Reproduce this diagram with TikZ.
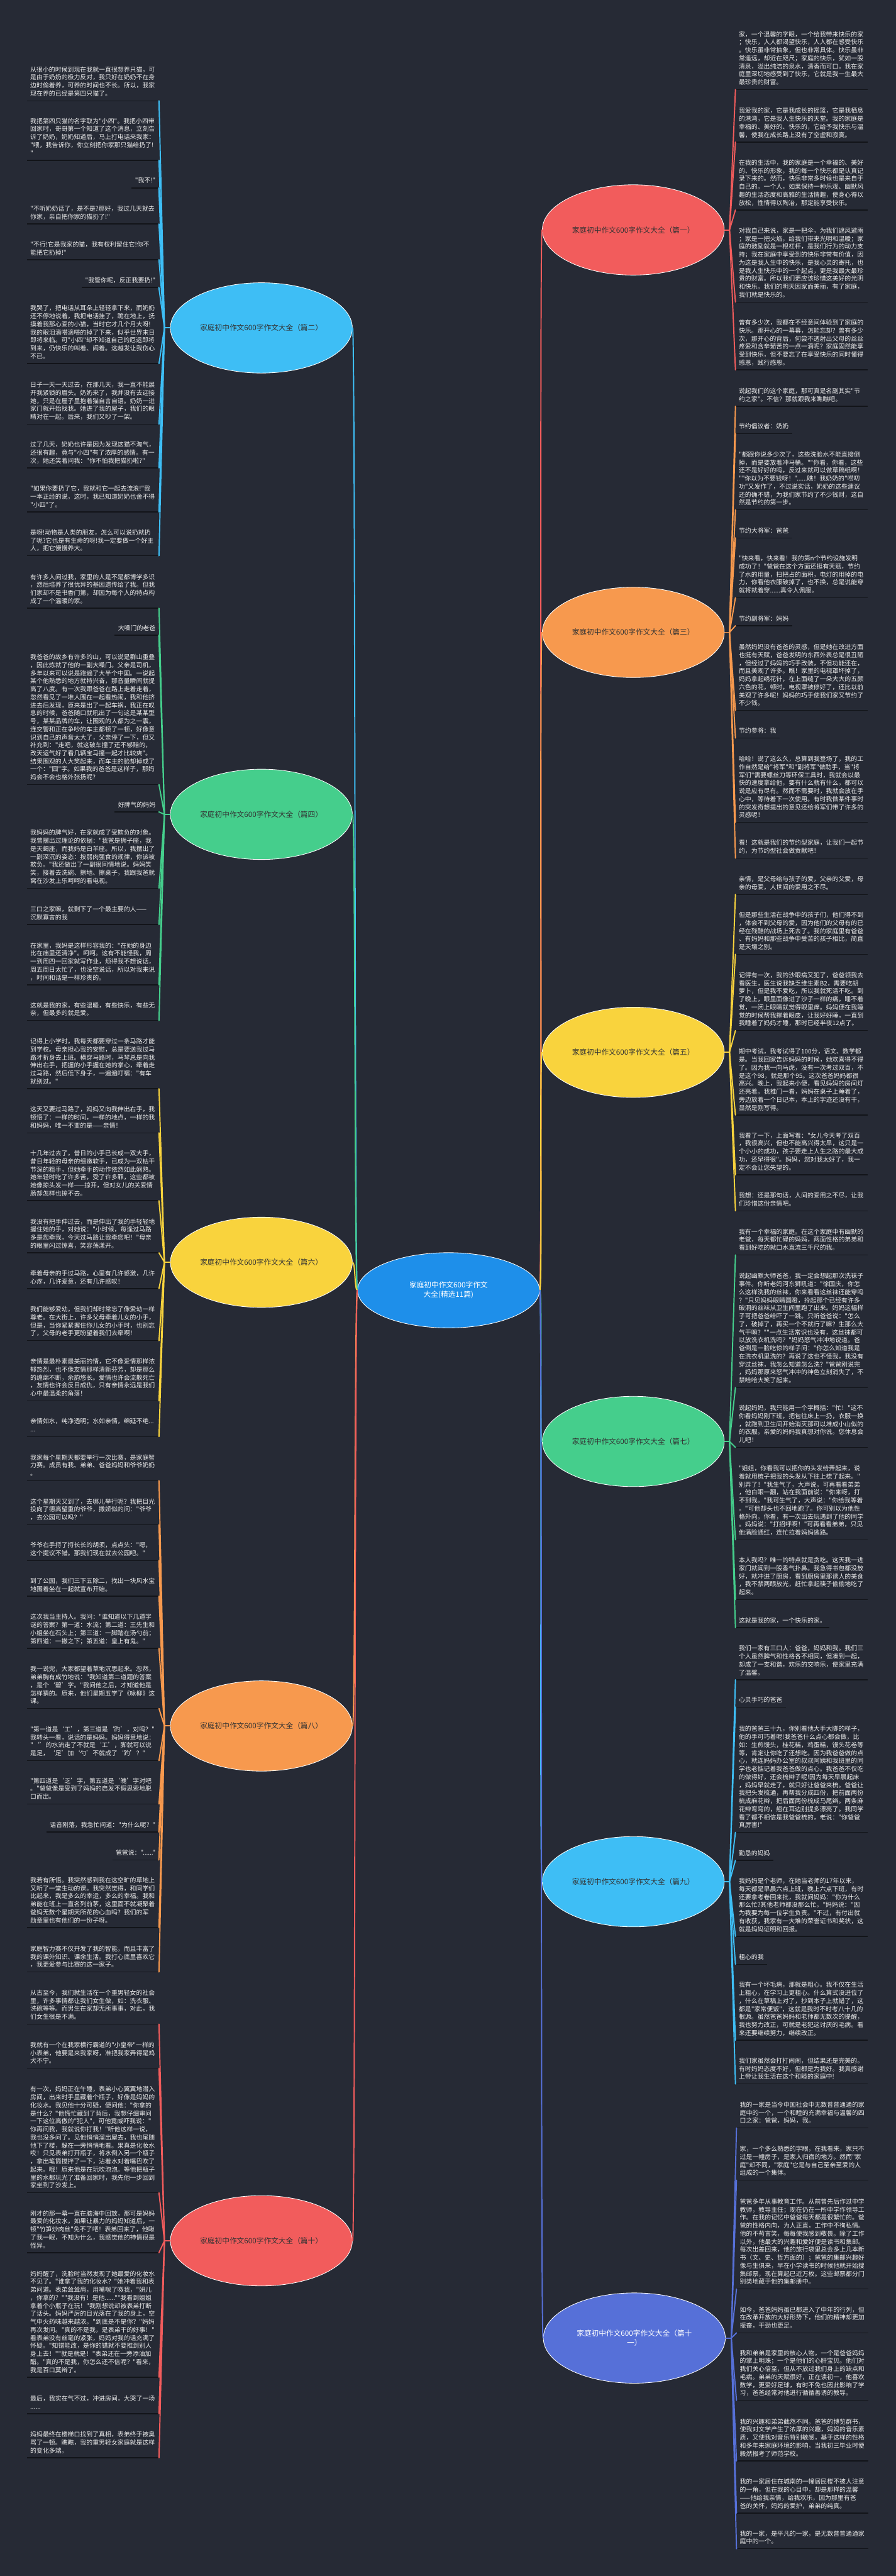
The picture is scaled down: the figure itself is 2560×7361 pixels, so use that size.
\documentclass[tikz,border=0pt]{standalone}
\usepackage{fontspec}
\newfontfamily\cjk{Noto Sans CJK SC}
\usetikzlibrary{shapes.geometric}
\definecolor{bgc}{HTML}{262A35}
\definecolor{txtc}{HTML}{EDEDED}
\definecolor{ulc}{HTML}{121419}
\definecolor{cred}{HTML}{F25C5C}
\definecolor{cblue}{HTML}{3EBEF5}
\definecolor{corange}{HTML}{F7994E}
\definecolor{cgreen}{HTML}{45CE8C}
\definecolor{cyellow}{HTML}{F9D33D}
\definecolor{cpurple}{HTML}{5670D8}
\definecolor{ccenter}{HTML}{1E8FEA}
\definecolor{ndtxt}{HTML}{333333}
\newcommand\leaffont{\cjk\fontsize{17.8}{22.9}\selectfont}
\newcommand\nodefont{\cjk\fontsize{21}{27}\selectfont}
\tikzset{
  leafbase/.style={inner xsep=9.5pt, inner ysep=7pt, font=\leaffont, text=txtc, align=left, execute at end node=\strut},
  leafL/.style={leafbase, anchor=south west, text width=358pt},
  leafLs/.style={leafbase, anchor=south east},
  leafR/.style={leafbase, anchor=south west, text width=358pt},
  leafRs/.style={leafbase, anchor=south west},
  uline/.style={draw=ulc, line width=2.5pt},
  topic/.style={ellipse, draw=white, line width=1.5pt, minimum width=520pt, minimum height=258pt, inner sep=0pt, font=\nodefont, text=ndtxt, align=center},
  bline/.style={line width=3.5pt, line cap=round}
}
\begin{document}
\begin{tikzpicture}[x=1pt,y=-1pt]
\fill[bgc] (0,0) rectangle (2560,7361);
\useasboundingbox (0,0) rectangle (2560,7361);

% ---------- topic nodes ----------
\node[ellipse, draw=white, line width=1.5pt, fill=ccenter, minimum width=520pt, minimum height=215pt, inner sep=0pt, font=\nodefont, text=white, align=center] (c) at (1282,3687) {家庭初中作文600字作文\\大全(精选11篇)};
\node[topic, fill=cred] (n1) at (1810,657) {家庭初中作文600字作文大全（篇一）};
\node[topic, fill=cblue] (n2) at (747,937) {家庭初中作文600字作文大全（篇二）};
\node[topic, fill=corange] (n3) at (1810,1807) {家庭初中作文600字作文大全（篇三）};
\node[topic, fill=cgreen] (n4) at (747,2327) {家庭初中作文600字作文大全（篇四）};
\node[topic, fill=cyellow] (n5) at (1810,3007) {家庭初中作文600字作文大全（篇五）};
\node[topic, fill=cyellow] (n6) at (747,3607) {家庭初中作文600字作文大全（篇六）};
\node[topic, fill=cgreen] (n7) at (1810,4119) {家庭初中作文600字作文大全（篇七）};
\node[topic, fill=corange] (n8) at (747,4932) {家庭初中作文600字作文大全（篇八）};
\node[topic, fill=cblue] (n9) at (1810,5377) {家庭初中作文600字作文大全（篇九）};
\node[topic, fill=cred] (n10) at (747,6403) {家庭初中作文600字作文大全（篇十）};
\node[topic, fill=cpurple, text=white] (n11) at (1813,6681) {家庭初中作文600字作文大全（篇十\\一）};

% center connectors
\foreach \n/\col in {n2/cblue,n4/cgreen,n6/cyellow,n8/corange,n10/cred}{
  \draw[bline, draw=\col] (c.west) .. controls +(-8,0) and +(8,0) .. (\n.east);
}
\foreach \n/\col in {n1/cred,n3/corange,n5/cyellow,n7/cgreen,n9/cblue,n11/cpurple}{
  \draw[bline, draw=\col] (c.east) .. controls +(8,0) and +(-8,0) .. (\n.west);
}

% junctions
\coordinate (j1) at (2085,657);
\coordinate (j2) at (470,937);
\coordinate (j3) at (2085,1807);
\coordinate (j4) at (470,2327);
\coordinate (j5) at (2085,3007);
\coordinate (j6) at (470,3607);
\coordinate (j7) at (2085,4119);
\coordinate (j8) at (470,4932);
\coordinate (j9) at (2085,5377);
\coordinate (j10) at (470,6403);
\coordinate (j11) at (2090,6681);
\draw[bline, draw=cred] (n1.east) -- (j1);
\draw[bline, draw=cblue] (n2.west) -- (j2);
\draw[bline, draw=corange] (n3.east) -- (j3);
\draw[bline, draw=cgreen] (n4.west) -- (j4);
\draw[bline, draw=cyellow] (n5.east) -- (j5);
\draw[bline, draw=cyellow] (n6.west) -- (j6);
\draw[bline, draw=cgreen] (n7.east) -- (j7);
\draw[bline, draw=corange] (n8.west) -- (j8);
\draw[bline, draw=cblue] (n9.east) -- (j9);
\draw[bline, draw=cred] (n10.west) -- (j10);
\draw[bline, draw=cpurple] (n11.east) -- (j11);

% ================= LEFT LEAVES =================
% 篇二
\node[leafL] (L1) at (77,288) {从很小的时候到现在我就一直很想养只猫，可\\是由于奶奶的极力反对，我只好在奶奶不在身\\边时偷着养，可养的时间也不长。所以，我家\\现在养的已经是第四只猫了。};
\node[leafL] (L2) at (77,458) {我把第四只猫的名字取为"小四"。我把小四带\\回家时，哥哥第一个知道了这个消息，立刻告\\诉了奶奶，奶奶知道后，马上打电话来我家：\\"喂，我告诉你，你立刻把你家那只猫给扔了!\\"};
\node[leafLs] (L3) at (454,537) {"我不!"};
\node[leafL] (L4) at (77,640) {"不听奶奶话了，是不是?那好，我过几天就去\\你家，亲自把你家的猫扔了!"};
\node[leafL] (L5) at (77,742) {"不行!它是我家的猫，我有权利留住它!你不\\能把它扔掉!"};
\node[leafLs] (L6) at (454,821) {"我管你呢，反正我要扔!"};
\node[leafL] (L7) at (77,1039) {我哭了，把电话从耳朵上轻轻拿下来，而奶奶\\还不停地说着，我把电话挂了，跪在地上，抚\\摸着我那心爱的小猫，当时它才几个月大呀!\\我的眼泪滴嗒滴嗒的掉了下来，似乎世界末日\\即将来临。可"小四"却不知道自己的厄运即将\\到来，仍快乐的叫着、闹着。这越发让我伤心\\不已。};
\node[leafL] (L8) at (77,1212) {日子一天一天过去，在那几天，我一直不能展\\开我紧锁的眉头。奶奶来了，我并没有去迎接\\她，只是在屋子里抱着猫自言自语。奶奶一进\\家门就开始找我。她进了我的屋子，我们的眼\\睛对在一起。后来，我们又吵了一架。};
\node[leafL] (L9) at (77,1337) {过了几天，奶奶也许是因为发现这猫不淘气，\\还很有趣，竟与"小四"有了浓厚的感情。有一\\次，她还笑着问我："你不怕我把猫扔啦?"};
\node[leafL] (L10) at (77,1463) {"如果你要扔了它，我就和它一起去流浪!"我\\一本正经的说，这时，我已知道奶奶也舍不得\\"小四"了。};
\node[leafL] (L11) at (77,1588) {是呀!动物是人类的朋友，怎么可以说扔就扔\\了呢?它也是有生命的呀!我一定要做一个好主\\人，把它慢慢养大。};
% 篇四
\node[leafL] (L12) at (77,1738) {有许多人问过我，家里的人是不是都博学多识\\，然后培养了很优异的基因遗传给了我。但我\\们家却不是书香门第，却因为每个人的特点构\\成了一个温暖的家。};
\node[leafLs] (L13) at (454,1815) {大嗓门的老爸};
\node[leafL] (L14) at (77,2242) {我爸爸的故乡有许多的山，可以说是群山重叠\\，因此炼就了他的一副大嗓门。父亲是司机，\\多年以来可以说是跑遍了大半个中国。一说起\\某个他熟悉的地方就特兴奋，那音量瞬间就提\\高了八度。有一次我跟爸爸在路上走着走着，\\忽然看见了一堆人围在一起看热闹，我和他挤\\进去后发现，原来是出了一起车祸，我正在叹\\息的时候，爸爸随口就吼出了一句这是某某型\\号，某某品牌的车，让围观的人都为之一震，\\连交警和正在争吵的车主都顿了一顿，好像意\\识到自己的声音太大了，父亲停了一下，但又\\补充到："走吧，就这破车撞了还不够赔的，\\改天运气好了看几辆宝马撞一起才比较爽"。\\结果围观的人大笑起来，而车主的脸却掉成了\\一个："囧"字。如果我的爸爸是这样子，那妈\\妈会不会也格外张扬呢?};
\node[leafLs] (L15) at (454,2320) {好脾气的妈妈};
\node[leafL] (L16) at (77,2538) {我妈妈的脾气好，在家就成了受欺负的对象。\\我曾摆出过理论的依据："我爸是狮子座，我\\是天蝎座，而我妈是白羊座。所以，我摆出了\\一副深沉的姿态：按弱肉强食的规律，你该被\\欺负。"我还做出了一副很同情地说。妈妈笑\\笑，接着去洗碗、擦地、擦桌子，我跟我爸就\\窝在沙发上乐呵呵的看电视。};
\node[leafL] (L17) at (77,2642) {三口之家嘛，就剩下了一个最主要的人——\\沉默寡言的我};
\node[leafL] (L18) at (77,2814) {在家里，我妈是这样形容我的："在她的身边\\比在庙里还清净"。呵呵。这有不能怪我，周\\一到周四一回家就写作业，烦得我不想说话，\\周五周日太忙了，也没空说话，所以对我来说\\，时间和话是一样珍贵的。};
\node[leafL] (L19) at (77,2916) {这就是我的家，有些温暖，有些快乐，有些无\\奈，但最多的就是爱。};
% 篇六
\node[leafL] (L20) at (77,3111) {记得上小学时，我每天都要穿过一条马路才能\\到学校。母亲担心我的安慰，总是要送我过马\\路才折身去上班。横穿马路时，马琴总是向我\\伸出右手，把握的小手握在她的掌心，牵着走\\过马路，然后低下身子，一遍遍叮嘱："有车\\就别过。"};
\node[leafL] (L21) at (77,3237) {这天又要过马路了，妈妈又向我伸出右手，我\\顿悟了：一样的时间，一样的地点，一样的我\\和妈妈，唯一不变的是——亲情！};
\node[leafL] (L22) at (77,3431) {十几年过去了，昔日的小手已长成一双大手，\\昔日年轻的母亲的细嫩软手，已成为一双枯干\\节深的粗手，但她牵手的动作依然如此娴熟。\\她年轻时吃了许多苦，受了许多罪，这些都被\\她像掠头发一样——掠开，但对女儿的关爱情\\肠却怎样也掠不去。};
\node[leafL] (L23) at (77,3580) {我没有把手伸过去，而是伸出了我的手轻轻地\\握住她的手，对她说："小时候，每逢过马路\\多是您牵我，今天过马路让我牵您吧！"母亲\\的眼里闪过惊喜，笑容荡漾开。};
\node[leafL] (L24) at (77,3682) {牵着母亲的手过马路，心里有几许感激，几许\\心疼，几许爱意，还有几许感叹！};
\node[leafL] (L25) at (77,3831) {我们能够爱幼，但我们却时常忘了像爱幼一样\\尊老。在大街上，许多父母牵着儿女的小手，\\但是，当你紧紧握住你儿女的小手时，也别忘\\了，父母的老手更盼望着我们去牵啊！};
\node[leafL] (L26) at (77,4003) {亲情是最朴素最美丽的情，它不像爱情那样浓\\郁热烈，也不像友情那样清新芬芳，却是那么\\的缠绵不断，余韵悠长。爱情也许会流散死亡\\，友情也许会反目成仇，只有亲情永远是我们\\心中最温柔的角落！};
\node[leafL] (L27) at (77,4105) {亲情如水，纯净透明；水如亲情，绵延不绝...\\...};
% 篇八
\node[leafL] (L28) at (77,4231) {我家每个星期天都要举行一次比赛，是家庭智\\力赛。成员有我、弟弟、爸爸妈妈和爷爷奶奶\\。};
\node[leafL] (L29) at (77,4357) {这个星期天又到了，去哪儿举行呢？我把目光\\投向了德高望重的爷爷，撒娇似的问："爷爷\\，去公园可以吗？"};
\node[leafL] (L30) at (77,4459) {爷爷右手捋了捋长长的胡须，点点头："嗯，\\这个提议不错。那我们现在就去公园吧。"};
\node[leafL] (L31) at (77,4561) {到了公园，我们三下五除二，找出一块风水宝\\地围着坐在一起就宣布开始。};
\node[leafL] (L32) at (77,4710) {这次我当主持人。我问："谁知道以下几道字\\谜的答案？第一道：水流；第二道：王先生和\\小姐坐在石头上；第三道：一脚踏在汤勺前；\\第四道：一撇之下；第五道：皇上有鬼。"};
\node[leafL] (L33) at (77,4882) {我一说完，大家都望着草地沉思起来。忽然，\\弟弟胸有成竹地说："我知道第二道题的答案\\，是个‘碧’字。"我问他之后，才知道他是\\怎样猜的。原来，他们星期五学了《咏柳》这\\课。};
\node[leafL] (L34) at (77,5031) {"第一道是‘工’，第三道是‘趵’，对吗？"\\我转头一看，说话的是妈妈。妈妈得意地说：\\"‘’的水流走了不就是‘工’，脚就可以说\\是足，‘足’加‘勺’不就成了‘趵’？"};
\node[leafL] (L35) at (77,5155) {"第四道是‘乏’字，第五道是‘魄’字对吧\\。"爸爸像是受到了妈妈的启发不假思索地脱\\口而出。};
\node[leafLs] (L36) at (454,5235) {话音刚落，我急忙问道："为什么呢？"};
\node[leafLs] (L37) at (454,5315) {爸爸说："......"};
\node[leafL] (L38) at (77,5508) {我若有所悟。我突然感到我在这空旷的草地上\\又听了一堂生动的课。我突然觉得，和同学们\\比起来，我是多么的幸运，多么的幸福。我和\\弟能在班上一直名列前茅，这里面不就凝聚着\\爸妈无数个星期天所花的心血吗？我们的军\\勋章里也有他们的一份子呀。};
\node[leafL] (L39) at (77,5635) {家庭智力赛不仅开发了我的智能，而且丰富了\\我的课外知识、课余生活。我打心底里喜欢它\\，我更爱参与比赛的这一家子。};
% 篇十
\node[leafL] (L40) at (77,5784) {从古至今，我们就生活在一个重男轻女的社会\\里，许多事情都让我们女生做，如：洗衣服、\\洗碗等等。而男生在家却无所事事，对此，我\\们女生很是不满。};
\node[leafL] (L41) at (77,5910) {我就有一个在我家横行霸道的"小皇帝"一样的\\小表弟，他要是来我家呀，准把我家弄得是鸡\\犬不宁。};
\node[leafL] (L42) at (77,6266) {有一次，妈妈正在午睡，表弟小心翼翼地潜入\\房间，出来时手里藏着个瓶子，好像是妈妈的\\化妆水。我见他十分可疑，便问他："你拿的\\是什么？"他慌忙藏到了背后，我想仔细审问\\一下这位高傲的"犯人"，可他竟威吓我说："\\你再问我，我就说你打我！"听他这样一说，\\我也没多问了。见他悄悄溜出屋去，我也尾随\\他下了楼，躲在一旁悄悄地看。果真是化妆水\\哎！只见表弟打开瓶子，将水倒入另一个瓶子\\，拿出笔筒搅拌了一下，沾着水对着嘴巴吹了\\起来。哦！原来他是在玩吹泡泡。等他把瓶子\\里的水都玩光了准备回家时，我先他一步回到\\家坐到了沙发上。};
\node[leafL] (L43) at (77,6437) {刚才的那一幕一直在脑海中回放，那可是妈妈\\最爱的化妆水，如果让暴力的妈妈知道后，一\\顿"竹笋炒肉丝"免不了吧！表弟回来了，他瞅\\了我一眼，不知为什么，我感觉他的神情很是\\怪异。};
\node[leafL] (L44) at (77,6793) {妈妈醒了，洗脸时当然发现了她最爱的化妆水\\不见了。"谁拿了我的化妆水？"她冲着我和表\\弟问道。表弟耸耸肩，用嘴呶了呶我，"妍儿\\，你拿的？""我没有！是他......""我看到姐姐\\拿着个小瓶子在玩！"我刚想说却被表弟打断\\了话头。妈妈严厉的目光落在了我的身上，空\\气中火药味越来越浓。"到底是不是你？"妈妈\\再次发问。"真的不是我，是表弟干的好事！"\\看表弟没有丝毫的紧张，妈妈对我的话充满了\\怀疑。"知错能改，是你的错就不要推到别人\\身上去！""就是就是！"表弟还在一旁添油加\\醋。"真的不是我，你怎么还不信呢？"看来，\\我是百口莫辩了。};
\node[leafL] (L45) at (77,6897) {最后，我实在气不过，冲进房间，大哭了一场\\......};
\node[leafL] (L46) at (77,7023) {妈妈最终在楼梯口找到了真相，表弟终于被臭\\骂了一顿。瞧瞧，我的重男轻女家庭就是这样\\的变化多端。};

% ================= RIGHT LEAVES =================
% 篇一
\node[leafR] (R1) at (2102,256) {家，一个温馨的字眼，一个给我带来快乐的家\\；快乐，人人都渴望快乐，人人都在感受快乐\\。快乐虽非常抽象，但也非常具体。快乐虽非\\常遥远，却近在咫尺；家庭的快乐，犹如一股\\清泉，溢出纯洁的泉水，清香而可口。我在家\\庭里深切地感受到了快乐，它就是我一生最大\\最珍贵的财富。};
\node[leafR] (R2) at (2102,406) {我爱我的家，它是我成长的摇篮，它是我栖息\\的港湾，它是我人生快乐的天堂。我的家庭是\\幸福的、美好的、快乐的，它给予我快乐与温\\馨，使我在成长路上没有了空虚和寂寞。};
\node[leafR] (R3) at (2102,600) {在我的生活中，我的家庭是一个幸福的、美好\\的、快乐的形象，我的每一个快乐都是认真记\\录下来的。然而，快乐非常多时候也是来自于\\自己的。一个人，如果保持一种乐观、幽默风\\趣的生活态度和高雅的生活情趣，使身心得以\\放松，性情得以陶冶，那定能享受快乐。};
\node[leafR] (R4) at (2102,863) {对我自己来说，家是一把伞，为我们遮风避雨\\；家是一把火焰，给我们带来光明和温暖；家\\庭的鼓励就是一根杠杆，是我们行为的动力支\\持；我在家庭中享受到的快乐非常有价值，因\\为这是我人生中的快乐，是我心灵的寄托，也\\是我人生快乐中的一个起点，更是我最大最珍\\贵的财富。所以我们更应该珍惜这美好的光阴\\和快乐。我们的明天因家而美丽，有了家庭，\\我们就是快乐的。};
\node[leafR] (R5) at (2102,1057) {曾有多少次，我都在不经意间体验到了家庭的\\快乐。那开心的一幕幕，怎能忘却？曾有多少\\次，那开心的背后，何尝不透射出父母的丝丝\\疼爱和含辛茹苦的一点一滴呢？家庭固然能享\\受到快乐，但不要忘了在享受快乐的同时懂得\\感恩，践行感恩。};
% 篇三
\node[leafR] (R6) at (2102,1161) {说起我们的这个家庭，那可真是名副其实"节\\约之家"。不信？那就跟我来瞧瞧吧。};
\node[leafRs] (R7) at (2102,1239) {节约倡议者：奶奶};
\node[leafR] (R8) at (2102,1457) {"都跟你说多少次了，这些洗脸水不能直接倒\\掉，而是要放着冲马桶。""你看，你看，这些\\还不是好好的吗，反过来就可以做草稿纸啊！\\""你以为不要钱呀！"......瞧！我奶奶的"唠叨\\功"又发作了，不过说实话，奶奶的这些建议\\还的确不错，为我们家节约了不少钱财，这自\\然是节约的第一步。};
\node[leafRs] (R9) at (2102,1537) {节约大将军：爸爸};
\node[leafR] (R10) at (2102,1708) {"快来看，快来看！我的第n个节约设施发明\\成功了！"爸爸在这个方面还挺有天赋，节约\\了水的用量，扫把占的面积，电灯的用掉的电\\力，你看他衣服破掉了，也不换，总是说能穿\\就将就着穿......真令人佩服。};
\node[leafRs] (R11) at (2102,1788) {节约副将军：妈妈};
\node[leafR] (R12) at (2102,2030) {虽然妈妈没有爸爸的灵感，但是她在改进方面\\也挺有天赋，爸爸发明的东西外表总是很丑陋\\，但经过了妈妈的巧手改装，不但功能还在，\\而且美观了许多。瞧！家里的电视罩坏掉了，\\妈妈拿起绣花针，在上面缝了一朵大大的五颜\\六色的花，顿时，电视罩被修好了，还比以前\\美观了许多呢！妈妈的巧手使我们家又节约了\\不少钱。};
\node[leafRs] (R13) at (2102,2109) {节约参将：我};
\node[leafR] (R14) at (2102,2350) {哈哈！说了这么久，总算到我登场了，我的工\\作自然是给"将军"和"副将军"做助手，当"将\\军们"需要螺丝刀等环保工具时，我就会以最\\快的速度拿给他，要有什么就有什么，都可以\\说是应有尽有。然而不需要时，我就会放在手\\心中，等待着下一次使用。有时我做某件事时\\的突发奇想提出的意见还给将军们带了许多的\\灵感呢！};
\node[leafR] (R15) at (2102,2452) {看！这就是我们的节约型家庭，让我们一起节\\约，为节约型社会做贡献吧！};
% 篇五
\node[leafR] (R16) at (2102,2556) {亲情，是父母给与孩子的爱，父亲的父爱，母\\亲的母爱，人世间的爱用之不尽。};
\node[leafR] (R17) at (2102,2727) {但是那些生活在战争中的孩子们，他们得不到\\，体会不到父母的爱，因为他们的父母有的已\\经在残酷的战场上死去了。我的家庭里有爸爸\\、有妈妈和那些战争中受苦的孩子相比，简直\\是天壤之别。};
\node[leafR] (R18) at (2102,2945) {记得有一次，我的沙眼病又犯了，爸爸领我去\\看医生，医生说我缺乏维生素B2，需要吃胡\\萝卜，但是我不爱吃，所以我就死活不吃。到\\了晚上，眼里面像进了沙子一样的痛，睡不着\\觉，一闭上眼睛就觉得眼里痒。妈妈便在我睡\\觉的时候帮我撑着眼皮，让我好好睡，一直到\\我睡着了妈妈才睡，那时已经半夜12点了。};
\node[leafR] (R19) at (2102,3186) {期中考试，我考试得了100分，语文、数学都\\是。当我回家告诉妈妈的时候，她欢喜得不得\\了。因为我一向马虎，没有一次考过双百，不\\是这个98，就是那个95。这次爸爸妈妈都很\\高兴。晚上，我起来小便，看见妈妈的房间灯\\还亮着。我推门一看，妈妈在桌子上睡着了，\\旁边放着一个日记本，本上的字迹还没有干，\\显然是刚写得。};
\node[leafR] (R20) at (2102,3357) {我看了一下，上面写着："女儿今天考了双百\\，我很高兴，但也不能高兴得太早，这只是一\\个小小的成功，孩子要走上人生之路的最大成\\功，还早得很"。妈妈，您对我太好了，我一\\定不会让您失望的。};
\node[leafR] (R21) at (2102,3460) {我想：还是那句话，人间的爱用之不尽，让我\\们珍惜这份亲情吧。};
% 篇七
\node[leafR] (R22) at (2102,3586) {我有一个幸福的家庭。在这个家庭中有幽默的\\老爸，每天都忙碌的妈妈，两面性格的弟弟和\\看到好吃的就口水直流三千尺的我。};
\node[leafR] (R23) at (2102,3965) {说起幽默大师爸爸，我一定会想起那次洗袜子\\事件。你听老妈河东狮吼道："徐国庆，你怎\\么这样洗我的丝袜，你来看看这丝袜还能穿吗\\？"只见妈妈眼睛圆瞪，拎起那个已经有许多\\破洞的丝袜从卫生间里跑了出来。妈妈这幅样\\子可把爸爸给吓了一跳。只听爸爸说："怎么\\了，破掉了，再买一个不就行了嘛？生那么大\\气干嘛？""一点生活常识也没有，这丝袜都可\\以放洗衣机洗吗？"妈妈怒气冲冲地说道。爸\\爸倒是一脸吃惊的样子问："你怎么知道我是\\在洗衣机里洗的？再说了这也不怪我，我没有\\穿过丝袜，我怎么知道怎么洗？"爸爸刚说完\\，妈妈那原来怒气冲冲的神色立刻消失了，不\\禁哈哈大笑了起来。};
\node[leafR] (R24) at (2102,4136) {说起妈妈，我只能用一个字概括："忙！"这不\\你看妈妈刚下班，把包往床上一扔，衣服一换\\，就跑到卫生间开始消灭那可以堆成小山似的\\的衣服。亲爱的妈妈我真想对你说。您休息会\\儿吧！};
\node[leafR] (R25) at (2102,4400) {"姐姐，你看我可以把你的头发给弄起来，说\\着就用梳子把我的头发从下往上梳了起来。"\\别弄了！"我生气了，大声说。可再看看弟弟\\，他白眼一翻，站在我面前说："你来呀，打\\不到我。"我可生气了，大声说："你给我等着\\。"可他却头也不回地跑了。你可别以为他性\\格外向。你看，有一次出去玩遇到了他的同学\\。妈妈说："打招呼啊！"可再看看弟弟，只见\\他满脸通红，连忙拉着妈妈逃路。};
\node[leafR] (R26) at (2102,4571) {本人我吗？唯一的特点就是贪吃。这天我一进\\家门就闻到一股香气扑鼻。我急得书包都没放\\好，就冲进了厨房，看到厨房里那诱人的美食\\，我不禁两眼放光，赶忙拿起筷子偷偷地吃了\\起来。};
\node[leafRs] (R27) at (2102,4651) {这就是我的家，一个快乐的家。};
% 篇九
\node[leafR] (R28) at (2102,4800) {我们一家有三口人：爸爸，妈妈和我。我们三\\个人虽然脾气和性格各不相同，但凑到一起，\\却成了一支和谐，欢乐的交响乐，使家里充满\\了温馨。};
\node[leafRs] (R29) at (2102,4878) {心灵手巧的爸爸};
\node[leafR] (R30) at (2102,5236) {我的爸爸三十九，你别看他大手大脚的样子，\\他的手可巧着呢!我爸爸什么点心都会做，比\\如：生煎馒头，桂花糕，鸡蛋糕，馒头花卷等\\等，肯定让你吃了还想吃。因为我爸爸做的点\\心，就连妈妈办公室的叔叔阿姨和我班里的同\\学也老惦记着我爸爸做的点心。我爸爸不仅吃\\的做得好，还会梳辫子呢!因为每天早晨起床\\，妈妈早就走了，就只好让爸爸来梳。爸爸让\\我把头发梳通，再帮我分成四份，把前面两份\\梳成麻花辫，把后面两份梳成马尾辫。两条麻\\花辫弯弯的，翘在耳边别提多漂亮了。我同学\\看了都不相信是我爸爸梳的，老说："你爸爸\\真厉害!"};
\node[leafRs] (R31) at (2102,5316) {勤恳的妈妈};
\node[leafR] (R32) at (2102,5533) {我妈妈是个老师，在她当老师的17年以来，\\每天都是早晨六点上班，晚上六点下班，有时\\还要拿考卷回来批，我就问妈妈："你为什么\\那么忙?其他老师都没那么忙。"妈妈说："因\\为我要为每一位学生负责。"不过，有付出就\\有收获，我家有一大堆的荣誉证书和奖状，这\\就是妈妈证明和回报。};
\node[leafRs] (R33) at (2102,5613) {粗心的我};
\node[leafR] (R34) at (2102,5830) {我有一个坏毛病，那就是粗心。我不仅在生活\\上粗心，在学习上更粗心。什么算式没进位了\\，什么在草稿上对了，抄到本子上就错了，这\\都是"家常便饭"，这就是我时不时考八十几的\\根源。虽然爸爸妈妈和老师都无数次的提醒，\\我也努力改正，可就是老犯这讨厌的毛病。看\\来还要继续努力，继续改正。};
\node[leafR] (R35) at (2102,5955) {我们家虽然会打打闹闹，但结果还是完美的。\\有时妈妈态度不好，但都是为我好。我真感谢\\上帝让我生活在这个和睦的家庭中!};
% 篇十一
\node[leafR] (R36) at (2105,6081) {我的一家是当今中国社会中无数普普通通的家\\庭中的一个，一个和睦的充满幸福与温馨的四\\口之家：爸爸，妈妈，我。};
\node[leafR] (R37) at (2105,6230) {家，一个多么熟悉的字眼，在我看来，家只不\\过是一幢房子，是家人归宿的地方。然而"家\\庭"却不同，"家庭"它是与自己至亲至爱的人\\组成的一个集体。};
\node[leafR] (R38) at (2105,6541) {爸爸多年从事教育工作。从前曾先后作过中学\\教师，教导主任；现在仍在一所中学作领导工\\作。在我的记忆中爸爸每天都是很繁忙的。爸\\爸的性格内向，为人正直，工作中不徇私情。\\他的不苟言笑，每每使我感到敬畏。除了工作\\以外，他最大的兴趣和爱好便是读书和集邮。\\每次出差回来，他的旅行袋里总会多上几本新\\书（文、史、哲方面的）；爸爸的集邮兴趣好\\像与生俱来，早在小学读书的时候他就开始搜\\集邮票，现在算起已近万枚。这些邮票都分门\\别类地藏于他的集邮册中。};
\node[leafR] (R39) at (2105,6666) {如今，爸爸妈妈虽已都进入了中年的行列，但\\在改革开放的大好形势下，他们的精神却更加\\振奋，干劲也更足。};
\node[leafR] (R40) at (2105,6859) {我和弟弟是家里的核心人物，一个是爸爸妈妈\\的掌上明珠；一个是他们的心肝宝贝。他们对\\我们关心倍至，但从不放过我们身上的缺点和\\毛病。弟弟的天赋很好，正在读初一，他喜欢\\数学，更爱好足球，有时不免也因此影响了学\\习，爸爸经常对他进行循循善诱的教导。};
\node[leafR] (R41) at (2105,7032) {我的兴趣和弟弟截然不同。爸爸的博览群书，\\使我对文学产生了浓厚的兴趣，妈妈的音乐素\\质，又使我对音乐特别敏感，基于这样的性格\\和多年来家庭环境的影响，当我初三毕业时便\\毅然报考了师范学校。};
\node[leafR] (R42) at (2105,7181) {我的一家居住在城南的一幢居民楼不被人注意\\的一角，但在我的心目中，却是那样的温馨\\——他给我亲情，给我欢乐，因为那里有爸\\爸的关怀，妈妈的爱护，弟弟的纯真。};
\node[leafR] (R43) at (2105,7283) {我的一家，是平凡的一家，是无数普普通通家\\庭中的一个。};

% underlines
\foreach \i in {1,...,46}{ \draw[uline] (L\i.south west) -- (L\i.south east); }
\foreach \i in {1,...,43}{ \draw[uline] (R\i.south west) -- (R\i.south east); }

% branch fans
\foreach \i in {1,...,11}{ \draw[bline, draw=cblue] (j2) -- (L\i.south east); }
\foreach \i in {12,...,19}{ \draw[bline, draw=cgreen] (j4) -- (L\i.south east); }
\foreach \i in {20,...,27}{ \draw[bline, draw=cyellow] (j6) -- (L\i.south east); }
\foreach \i in {28,...,39}{ \draw[bline, draw=corange] (j8) -- (L\i.south east); }
\foreach \i in {40,...,46}{ \draw[bline, draw=cred] (j10) -- (L\i.south east); }
\foreach \i in {1,...,5}{ \draw[bline, draw=cred] (j1) -- (R\i.south west); }
\foreach \i in {6,...,15}{ \draw[bline, draw=corange] (j3) -- (R\i.south west); }
\foreach \i in {16,...,21}{ \draw[bline, draw=cyellow] (j5) -- (R\i.south west); }
\foreach \i in {22,...,27}{ \draw[bline, draw=cgreen] (j7) -- (R\i.south west); }
\foreach \i in {28,...,35}{ \draw[bline, draw=cblue] (j9) -- (R\i.south west); }
\foreach \i in {36,...,43}{ \draw[bline, draw=cpurple] (j11) -- (R\i.south west); }
\end{tikzpicture}
\end{document}
